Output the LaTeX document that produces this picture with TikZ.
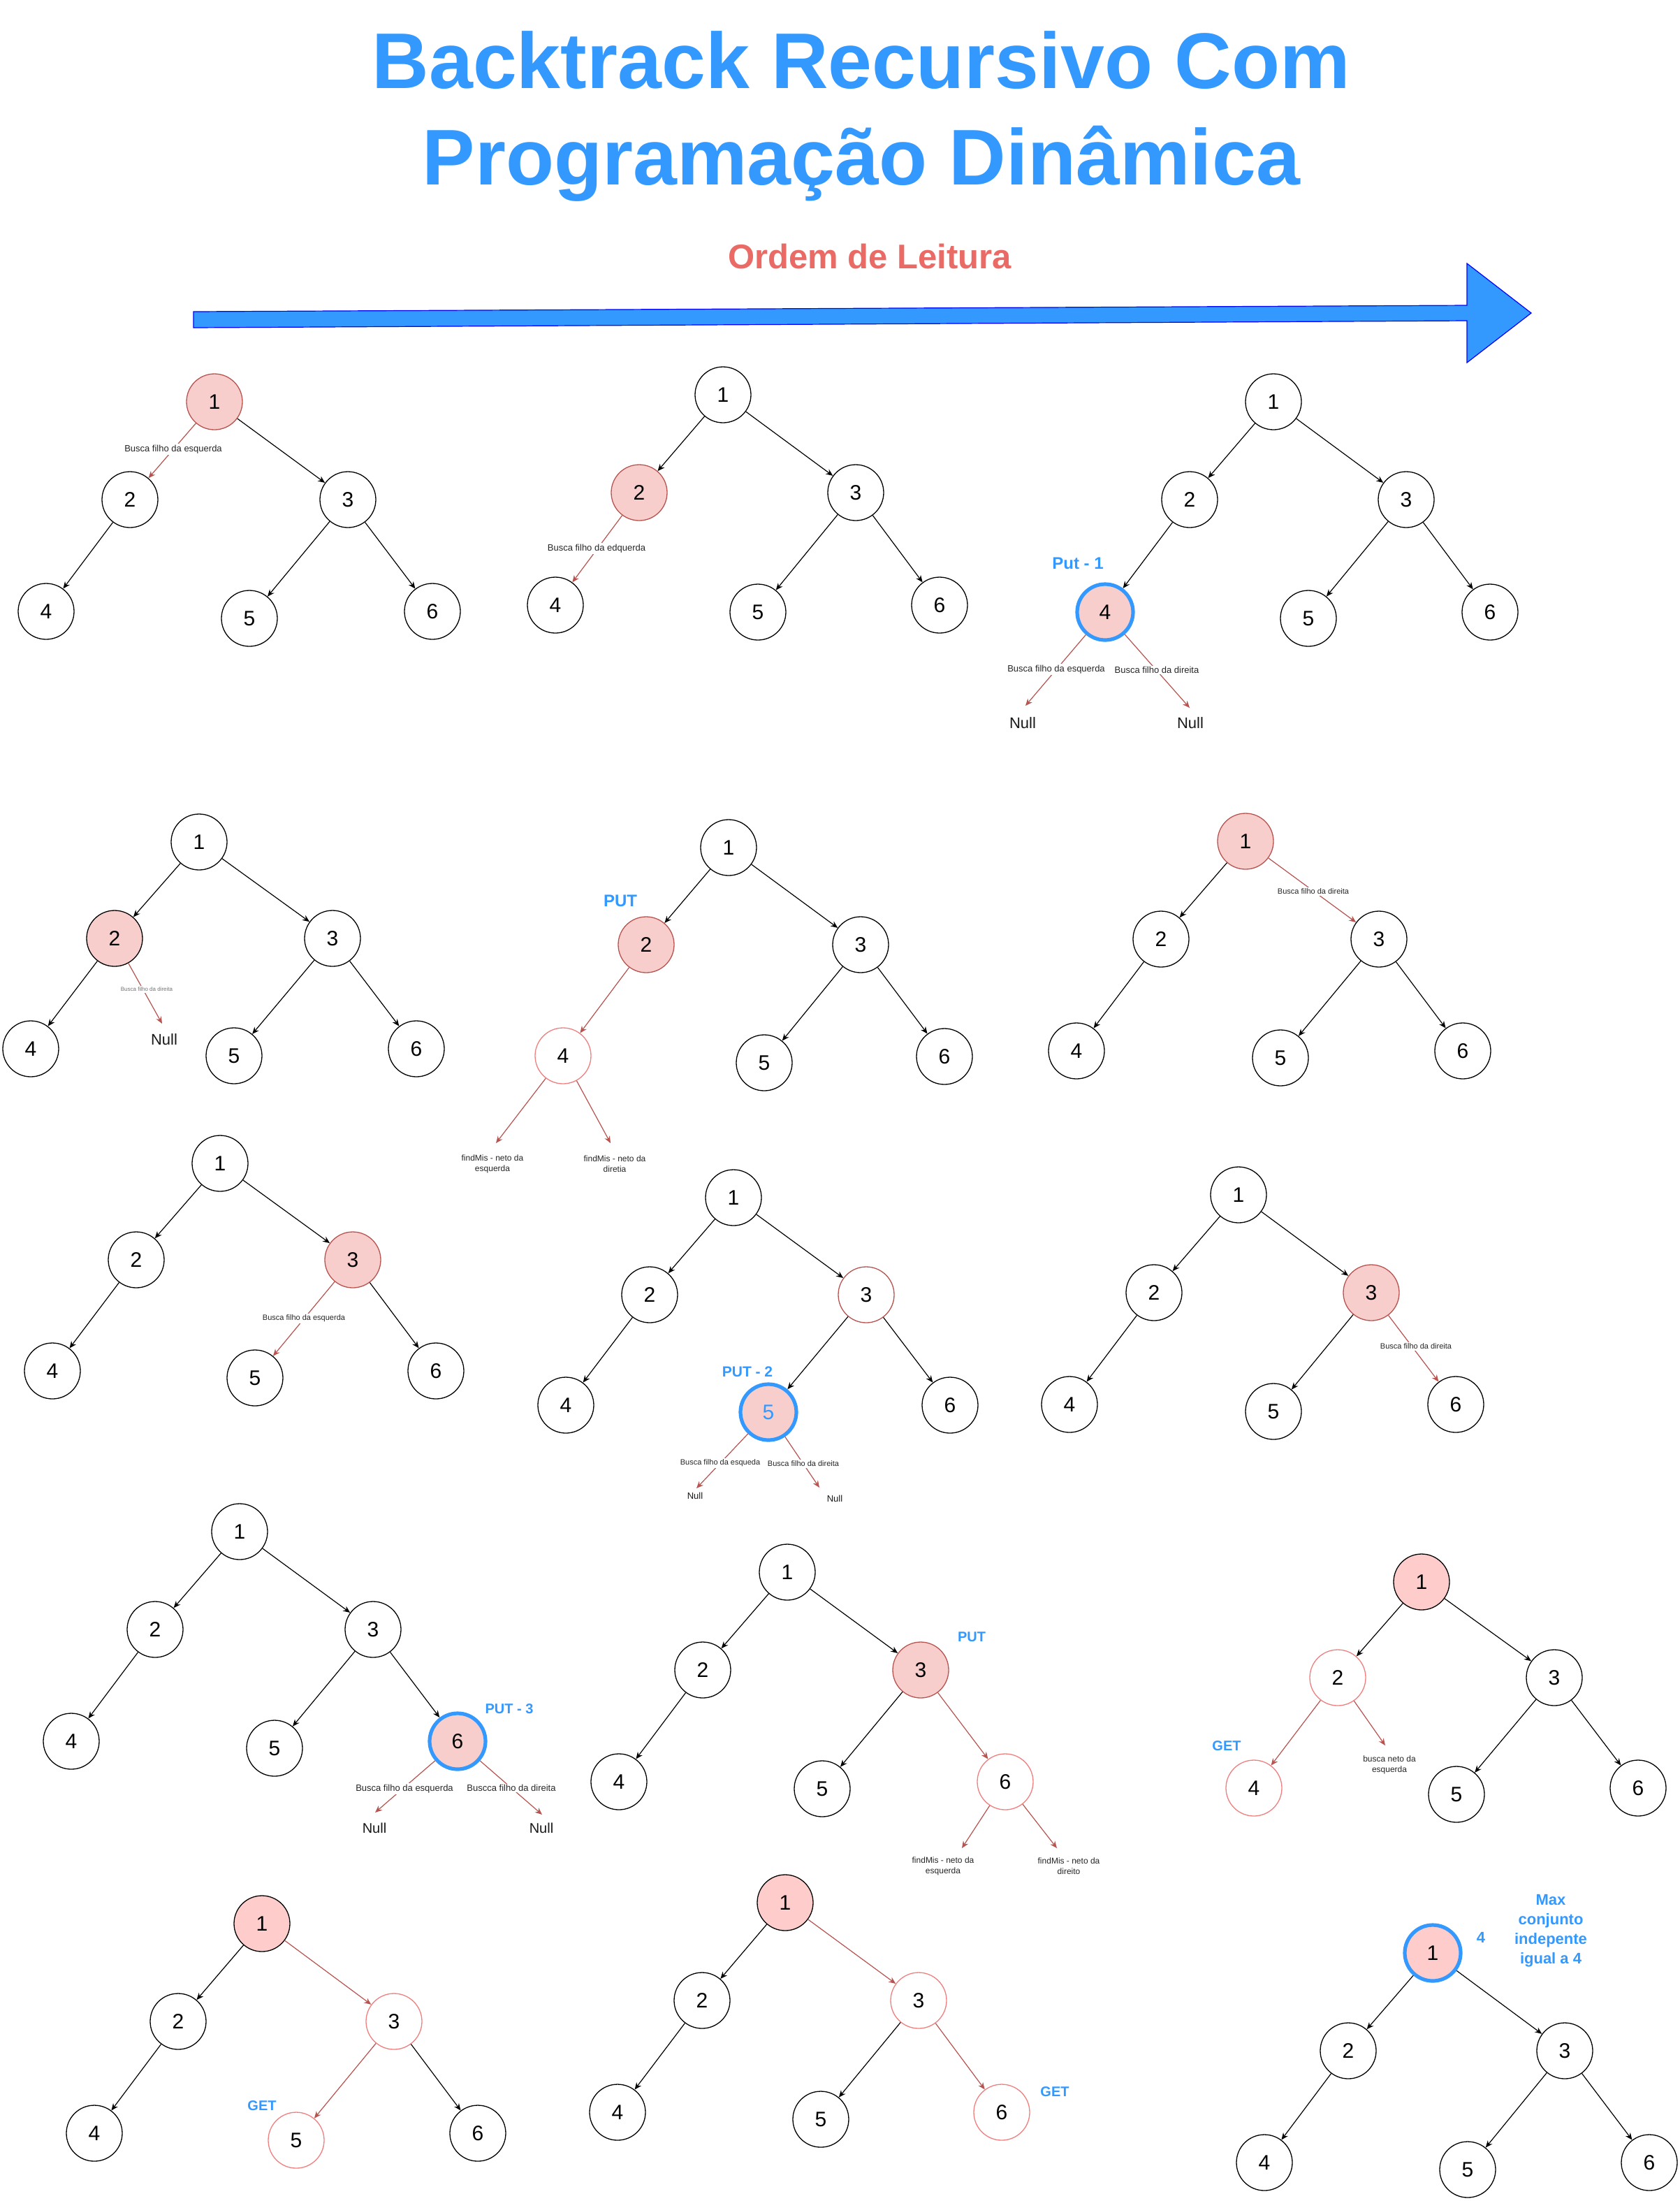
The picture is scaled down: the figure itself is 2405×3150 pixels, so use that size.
\documentclass[tikz,border=0pt]{standalone}
\usepackage{fontspec}
\setmainfont{Liberation Sans}
\usetikzlibrary{arrows.meta}
\definecolor{tblue}{HTML}{3399FF}
\definecolor{rdark}{HTML}{B85450}
\definecolor{pinkA}{HTML}{F8CECC}
\definecolor{pinkB}{HTML}{FFCCCC}
\definecolor{rlight}{HTML}{F08080}
\definecolor{ordc}{HTML}{EA6B66}
\tikzset{
 nd/.style={circle, draw=black, line width=0.65pt, minimum size=40pt, inner sep=0pt, fill=white, font=\fontsize{15}{18}\selectfont},
 pk/.style={nd, fill=pinkA, draw=rdark},
 pkk/.style={nd, fill=pinkB, draw=black},
 pkbl/.style={nd, fill=pinkA, draw=tblue, line width=2.6pt},
 wr/.style={nd, draw=rlight},
 ed/.style={line width=0.6pt, -{Stealth[length=5pt,width=4.2pt]}},
 re/.style={ed, draw=rdark},
 lb/.style={fill=white, inner sep=0.8pt, text=black!85},
 tag/.style={text=tblue, font=\bfseries\fontsize{10}{12}\selectfont},
 nul/.style={inner sep=0pt, text=black!90},
}
\begin{document}
\begin{tikzpicture}[x=0.5pt,y=-0.5pt]
\path[use as bounding box, fill=white] (0,0) rectangle (2405,3150);
% title
\node[text=tblue, font=\bfseries\fontsize{56.5}{60}\selectfont, anchor=base, inner sep=0pt] (t1) at (1233,126) {Backtrack Recursivo Com};
\node[text=tblue, font=\bfseries\fontsize{56.5}{60}\selectfont, anchor=base, inner sep=0pt] (t2) at (1233,264) {Programação Dinâmica};
\node[text=ordc, font=\bfseries\fontsize{24.5}{28}\selectfont, anchor=base, inner sep=0pt] (ord) at (1245,384) {Ordem de Leitura};
\draw[fill=tblue, draw=blue, line width=0.6pt] (277,446) -- (2100,437) -- (2100,377) -- (2192,448) -- (2100,519) -- (2100,459) -- (277,469) -- cycle;

% ---------- Tree A
\node[pk] (A1) at (307,575) {1};
\node[nd] (A2) at (186,715) {2};
\node[nd] (A3) at (498,715) {3};
\node[nd] (A4) at (66,875) {4};
\node[nd] (A5) at (357,885) {5};
\node[nd] (A6) at (619,875) {6};
\draw[re] (A1) -- (A2);
\draw[ed] (A1) -- (A3);
\draw[ed] (A2) -- (A4);
\draw[ed] (A3) -- (A5);
\draw[ed] (A3) -- (A6);
\node[lb, font=\fontsize{6.5}{8}\selectfont] (LA) at (248,643) {Busca filho da esquerda};

% ---------- Tree B
\node[nd] (B1) at (1035,565) {1};
\node[pk] (B2) at (915,705) {2};
\node[nd] (B3) at (1225,705) {3};
\node[nd] (B4) at (795,866) {4};
\node[nd] (B5) at (1085,876) {5};
\node[nd] (B6) at (1345,866) {6};
\draw[ed] (B1) -- (B2);
\draw[ed] (B1) -- (B3);
\draw[re] (B2) -- (B4);
\draw[ed] (B3) -- (B5);
\draw[ed] (B3) -- (B6);
\node[lb, font=\fontsize{6.5}{8}\selectfont] (LB) at (854,785) {Busca filho da edquerda};

% ---------- Tree C
\node[nd] (C1) at (1823,575) {1};
\node[nd] (C2) at (1703,715) {2};
\node[nd] (C3) at (2013,715) {3};
\node[pkbl] (C4) at (1582,876) {4};
\node[nd] (C5) at (1873,885) {5};
\node[nd] (C6) at (2133,876) {6};
\draw[ed] (C1) -- (C2);
\draw[ed] (C1) -- (C3);
\draw[ed] (C2) -- (C4);
\draw[ed] (C3) -- (C5);
\draw[ed] (C3) -- (C6);
\coordinate (CL) at (1468,1010);
\coordinate (CR) at (1703,1013);
\draw[re] (C4) -- (CL);
\draw[re] (C4) -- (CR);
\node[lb, font=\fontsize{6.5}{8}\selectfont] (LC1) at (1512,958) {Busca filho da esquerda};
\node[lb, font=\fontsize{6.5}{8}\selectfont] (LC2) at (1656,959) {Busca filho da direita};
\node[nul, font=\fontsize{11}{13}\selectfont] (NC1) at (1464,1035) {Null};
\node[nul, font=\fontsize{11}{13}\selectfont] (NC2) at (1704,1035) {Null};
\node[tag, font=\bfseries\fontsize{12}{14}\selectfont] (PC) at (1543,806) {Put - 1};

% ---------- Tree D
\node[nd] (D1) at (285,1205) {1};
\node[pk, draw=black] (D2) at (164,1343) {2};
\node[nd] (D3) at (476,1343) {3};
\node[nd] (D4) at (44,1501) {4};
\node[nd] (D5) at (335,1511) {5};
\node[nd] (D6) at (596,1501) {6};
\draw[ed] (D1) -- (D2);
\draw[ed] (D1) -- (D3);
\draw[ed] (D2) -- (D4);
\draw[ed] (D3) -- (D5);
\draw[ed] (D3) -- (D6);
\coordinate (DR) at (232,1465);
\draw[re] (D2) -- (DR);
\node[lb, text=black!55, font=\fontsize{4}{5}\selectfont] (LD) at (210,1416) {Busca filho da direita};
\node[nul, font=\fontsize{11}{13}\selectfont] (ND) at (235,1488) {Null};

% ---------- Tree E
\node[nd] (E1) at (1043,1213) {1};
\node[pk] (E2) at (925,1352) {2};
\node[nd] (E3) at (1232,1352) {3};
\node[wr] (E4) at (806,1511) {4};
\node[nd] (E5) at (1094,1521) {5};
\node[nd] (E6) at (1352,1512) {6};
\draw[ed] (E1) -- (E2);
\draw[ed] (E1) -- (E3);
\draw[re] (E2) -- (E4);
\draw[ed] (E3) -- (E5);
\draw[ed] (E3) -- (E6);
\coordinate (EL) at (710,1636);
\coordinate (ER) at (874,1636);
\draw[re] (E4) -- (EL);
\draw[re] (E4) -- (ER);
\node[lb, align=center, font=\fontsize{6}{7.5}\selectfont] (LE1) at (705,1666) {findMis - neto da\\esquerda};
\node[lb, align=center, font=\fontsize{6}{7.5}\selectfont] (LE2) at (880,1666) {findMis - neto da\\diretia};
\node[tag, font=\bfseries\fontsize{12}{14}\selectfont] (PE) at (888,1289) {PUT};

% ---------- Tree F
\node[pk] (F1) at (1783,1204) {1};
\node[nd] (F2) at (1662,1344) {2};
\node[nd] (F3) at (1974,1344) {3};
\node[nd] (F4) at (1541,1504) {4};
\node[nd] (F5) at (1833,1514) {5};
\node[nd] (F6) at (2094,1504) {6};
\draw[ed] (F1) -- (F2);
\draw[re] (F1) -- (F3);
\draw[ed] (F2) -- (F4);
\draw[ed] (F3) -- (F5);
\draw[ed] (F3) -- (F6);
\node[lb, font=\fontsize{5.5}{7}\selectfont] (LF) at (1880,1276) {Busca filho da direita};

% ---------- Tree G
\node[nd] (G1) at (315,1665) {1};
\node[nd] (G2) at (195,1803) {2};
\node[pk] (G3) at (505,1803) {3};
\node[nd] (G4) at (75,1962) {4};
\node[nd] (G5) at (365,1972) {5};
\node[nd] (G6) at (624,1962) {6};
\draw[ed] (G1) -- (G2);
\draw[ed] (G1) -- (G3);
\draw[ed] (G2) -- (G4);
\draw[re] (G3) -- (G5);
\draw[ed] (G3) -- (G6);
\node[lb, font=\fontsize{5.5}{7}\selectfont] (LG) at (435,1887) {Busca filho da esquerda};

% ---------- Tree H
\node[nd] (H1) at (1050,1714) {1};
\node[nd] (H2) at (930,1853) {2};
\node[nd, draw=rdark] (H3) at (1240,1853) {3};
\node[nd] (H4) at (810,2011) {4};
\node[pkbl, text=tblue] (H5) at (1100,2021) {5};
\node[nd] (H6) at (1360,2011) {6};
\draw[ed] (H1) -- (H2);
\draw[ed] (H1) -- (H3);
\draw[ed] (H2) -- (H4);
\draw[ed] (H3) -- (H5);
\draw[ed] (H3) -- (H6);
\coordinate (HL) at (997,2130);
\coordinate (HR) at (1173,2129);
\draw[re] (H5) -- (HL);
\draw[re] (H5) -- (HR);
\node[lb, font=\fontsize{5.5}{7}\selectfont] (LH1) at (1031,2094) {Busca filho da esqueda};
\node[lb, font=\fontsize{5.5}{7}\selectfont] (LH2) at (1150,2095) {Busca filho da direita};
\node[nul, font=\fontsize{6.5}{8}\selectfont] (NH1) at (995,2141) {Null};
\node[nul, font=\fontsize{6.5}{8}\selectfont] (NH2) at (1195,2145) {Null};
\node[tag, font=\bfseries\fontsize{10.5}{12}\selectfont] (PH) at (1070,1963) {PUT - 2};

% ---------- Tree I
\node[nd] (I1) at (1773,1710) {1};
\node[nd] (I2) at (1652,1850) {2};
\node[pk] (I3) at (1963,1850) {3};
\node[nd] (I4) at (1531,2010) {4};
\node[nd] (I5) at (1823,2020) {5};
\node[nd] (I6) at (2084,2010) {6};
\draw[ed] (I1) -- (I2);
\draw[ed] (I1) -- (I3);
\draw[ed] (I2) -- (I4);
\draw[ed] (I3) -- (I5);
\draw[re] (I3) -- (I6);
\node[lb, font=\fontsize{5.5}{7}\selectfont] (LI) at (2027,1927) {Busca filho da direita};

% ---------- Tree J
\node[nd] (J1) at (343,2192) {1};
\node[nd] (J2) at (222,2332) {2};
\node[nd] (J3) at (534,2332) {3};
\node[nd] (J4) at (102,2492) {4};
\node[nd] (J5) at (393,2502) {5};
\node[pkbl] (J6) at (655,2492) {6};
\draw[ed] (J1) -- (J2);
\draw[ed] (J1) -- (J3);
\draw[ed] (J2) -- (J4);
\draw[ed] (J3) -- (J5);
\draw[ed] (J3) -- (J6);
\coordinate (JL) at (537,2594);
\coordinate (JR) at (776,2597);
\draw[re] (J6) -- (JL);
\draw[re] (J6) -- (JR);
\node[lb, font=\fontsize{6.5}{8}\selectfont] (LJ1) at (579,2560) {Busca filho da esquerda};
\node[lb, font=\fontsize{6.5}{8}\selectfont] (LJ2) at (732,2559) {Buscca filho da direita};
\node[nul, font=\fontsize{10}{12}\selectfont] (NJ1) at (536,2616) {Null};
\node[nul, font=\fontsize{10}{12}\selectfont] (NJ2) at (775,2616) {Null};
\node[tag] (PJ) at (729,2446) {PUT - 3};

% ---------- Tree K
\node[nd] (K1) at (1127,2250) {1};
\node[nd] (K2) at (1006,2390) {2};
\node[pk] (K3) at (1318,2390) {3};
\node[nd] (K4) at (886,2550) {4};
\node[nd] (K5) at (1177,2560) {5};
\node[wr] (K6) at (1439,2550) {6};
\draw[ed] (K1) -- (K2);
\draw[ed] (K1) -- (K3);
\draw[ed] (K2) -- (K4);
\draw[ed] (K3) -- (K5);
\draw[re] (K3) -- (K6);
\coordinate (KL) at (1377,2645);
\coordinate (KR) at (1513,2645);
\draw[re] (K6) -- (KL);
\draw[re] (K6) -- (KR);
\node[lb, align=center, font=\fontsize{6}{7.5}\selectfont] (LK1) at (1350,2671) {findMis - neto da\\esquerda};
\node[lb, align=center, font=\fontsize{6}{7.5}\selectfont] (LK2) at (1530,2671) {findMis - neto da\\direito};
\node[tag] (PK) at (1391,2343) {PUT};

% ---------- Tree L
\node[pkk] (L1) at (2035,2264) {1};
\node[wr] (L2) at (1915,2401) {2};
\node[nd] (L3) at (2225,2401) {3};
\node[wr] (L4) at (1795,2559) {4};
\node[nd] (L5) at (2085,2568) {5};
\node[nd] (L6) at (2345,2559) {6};
\draw[ed] (L1) -- (L2);
\draw[ed] (L1) -- (L3);
\draw[re] (L2) -- (L4);
\draw[ed] (L3) -- (L5);
\draw[ed] (L3) -- (L6);
\coordinate (LR) at (1983,2498);
\draw[re] (L2) -- (LR);
\node[lb, align=center, font=\fontsize{6}{7.5}\selectfont] (LL) at (1989,2526) {busca neto da\\esquerda};
\node[tag] (GL) at (1756,2499) {GET};

% ---------- Tree M
\node[pkk] (M1) at (375,2753) {1};
\node[nd] (M2) at (255,2893) {2};
\node[wr] (M3) at (564,2893) {3};
\node[nd] (M4) at (135,3053) {4};
\node[wr] (M5) at (424,3063) {5};
\node[nd] (M6) at (684,3053) {6};
\draw[ed] (M1) -- (M2);
\draw[re] (M1) -- (M3);
\draw[ed] (M2) -- (M4);
\draw[re] (M3) -- (M5);
\draw[ed] (M3) -- (M6);
\node[tag] (GM) at (375,3014) {GET};

% ---------- Tree N
\node[pkk] (N1) at (1124,2723) {1};
\node[nd] (N2) at (1005,2863) {2};
\node[wr] (N3) at (1315,2863) {3};
\node[nd] (N4) at (884,3023) {4};
\node[nd] (N5) at (1175,3033) {5};
\node[wr] (N6) at (1434,3023) {6};
\draw[ed] (N1) -- (N2);
\draw[re] (N1) -- (N3);
\draw[ed] (N2) -- (N4);
\draw[ed] (N3) -- (N5);
\draw[re] (N3) -- (N6);
\node[tag] (GN) at (1510,2994) {GET};

% ---------- Tree O
\node[pkbl, fill=pinkB] (O1) at (2051,2795) {1};
\node[nd] (O2) at (1930,2935) {2};
\node[nd] (O3) at (2240,2935) {3};
\node[nd] (O4) at (1810,3095) {4};
\node[nd] (O5) at (2101,3105) {5};
\node[nd] (O6) at (2361,3095) {6};
\draw[ed] (O1) -- (O2);
\draw[ed] (O1) -- (O3);
\draw[ed] (O2) -- (O4);
\draw[ed] (O3) -- (O5);
\draw[ed] (O3) -- (O6);
\node[tag, font=\bfseries\fontsize{11}{14}\selectfont] (VO) at (2120,2773) {4};
\node[tag, align=center, font=\bfseries\fontsize{11}{14}\selectfont] (MO) at (2220,2763) {Max\\conjunto\\indepente\\igual a 4};
\end{tikzpicture}
\end{document}
